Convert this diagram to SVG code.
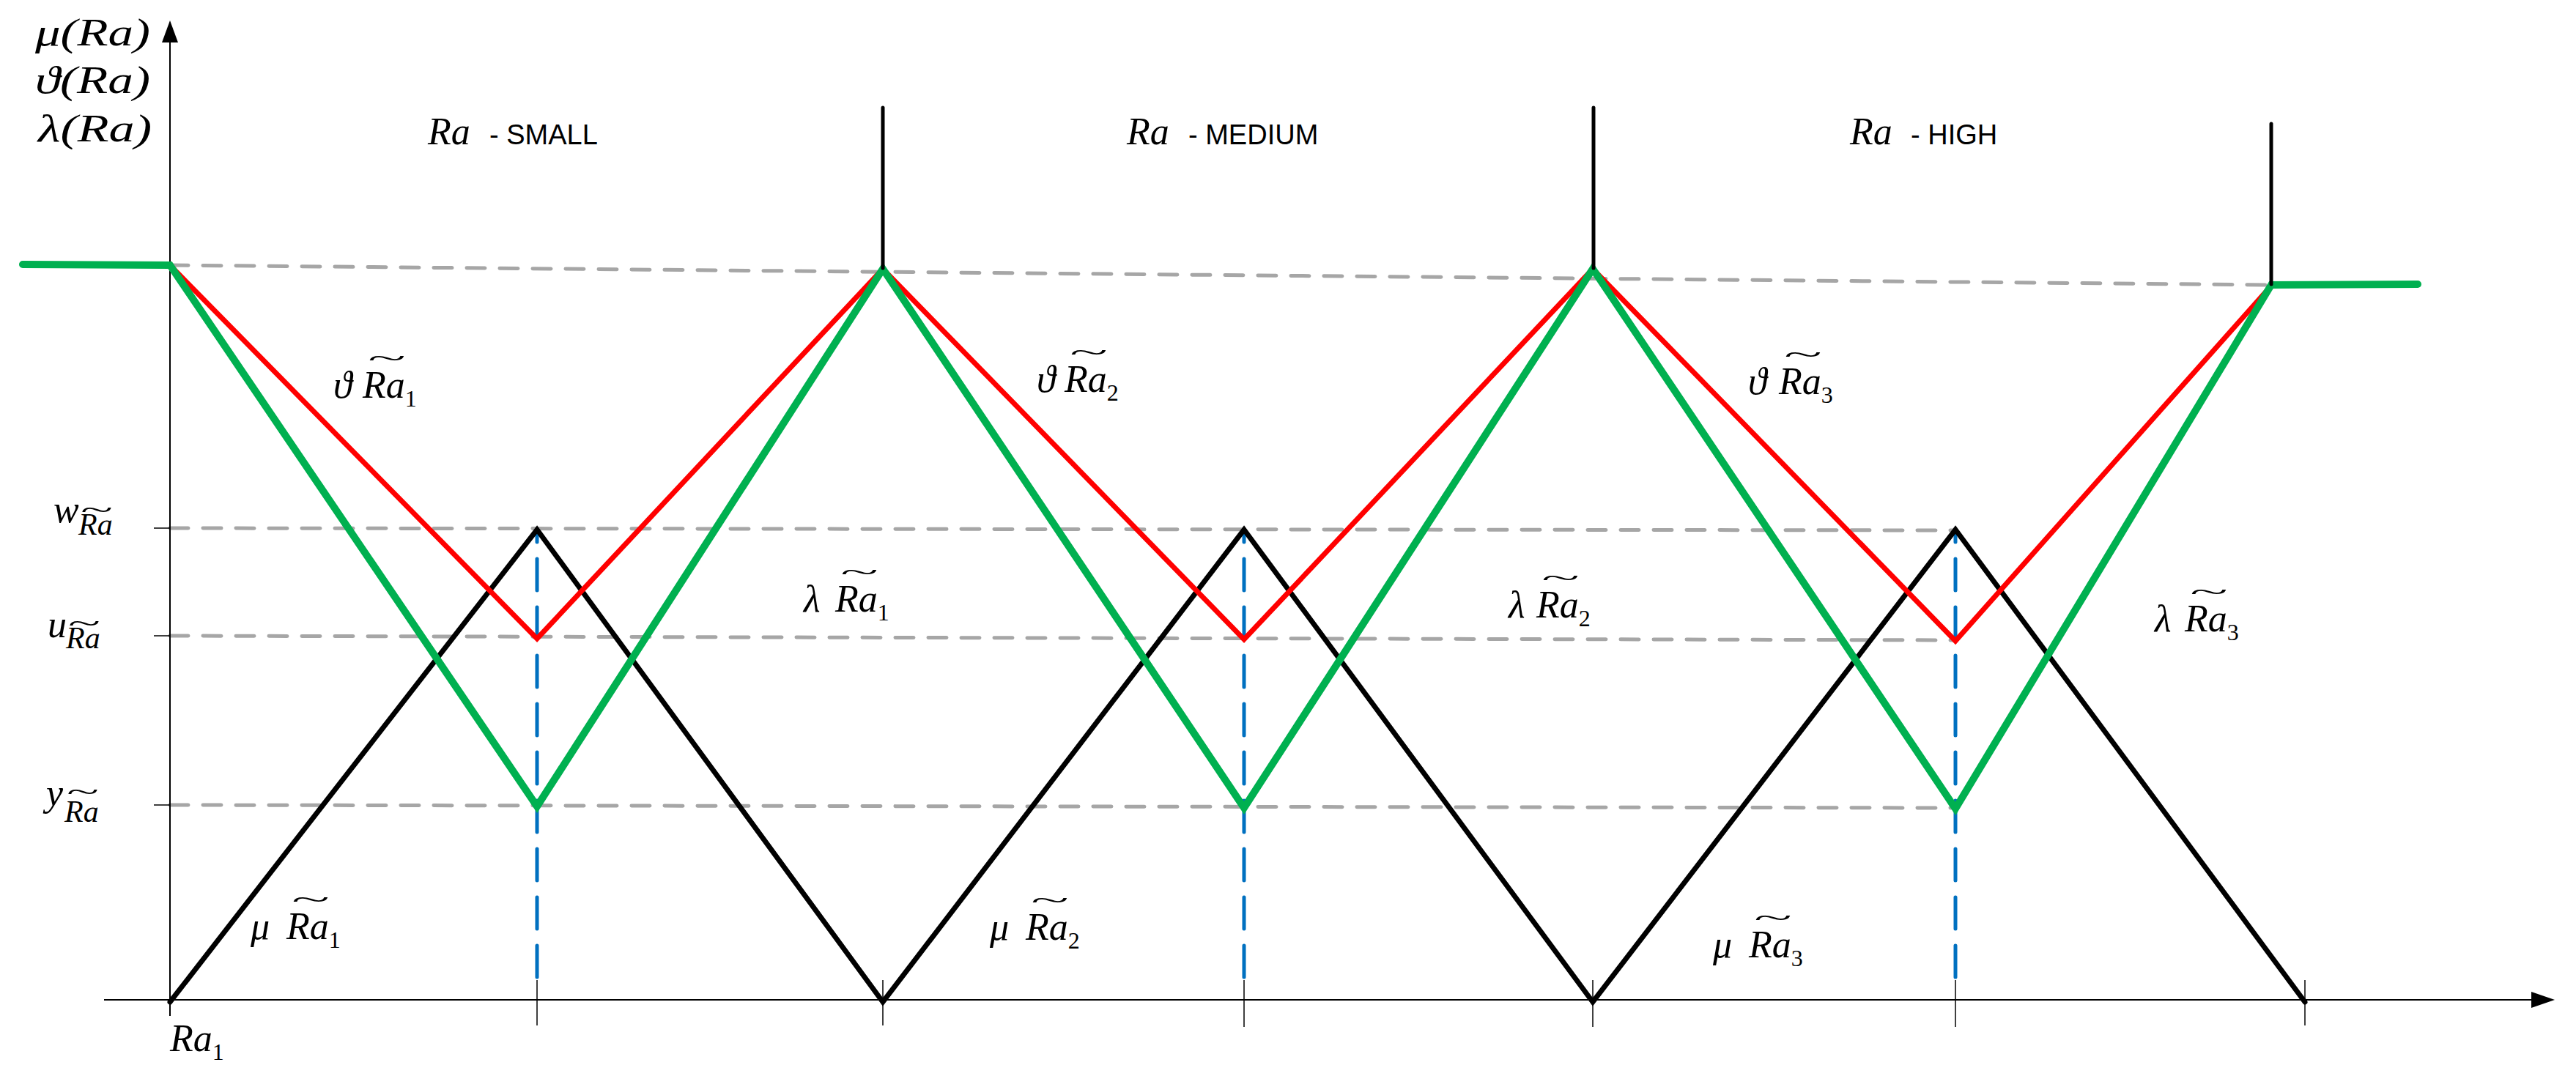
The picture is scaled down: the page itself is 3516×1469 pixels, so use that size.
<svg xmlns="http://www.w3.org/2000/svg" width="3516" height="1469" viewBox="0 0 3516 1469">
<style>
.bg{fill:#ffffff}
.axis{stroke:#000;stroke-width:2;fill:none}
.tick{stroke:#000;stroke-width:1.5;fill:none}
.arrow{fill:#000}
.guide{stroke:#A6A6A6;stroke-width:5;fill:none;stroke-dasharray:25 20;stroke-linecap:round}
.blue{stroke:#0070C0;stroke-width:5;fill:none;stroke-dasharray:43 23;stroke-dashoffset:26;stroke-linecap:round}
.mu{stroke:#000;stroke-width:7;fill:none;stroke-linecap:round;stroke-linejoin:miter}
.theta{stroke:#FF0000;stroke-width:7;fill:none;stroke-linecap:round;stroke-linejoin:miter}
.lam{stroke:#00B050;stroke-width:10;fill:none;stroke-linecap:round;stroke-linejoin:miter}
.post{stroke:#000;stroke-width:5;fill:none;stroke-linecap:round}
.m{font-family:"Liberation Serif","DejaVu Serif",serif;font-style:italic;font-size:52px;fill:#000}
.sub{font-style:normal;font-size:32px}
.tl{font-style:normal;font-size:36px}
.s{font-family:"Liberation Sans",Arial,sans-serif;font-size:38px;fill:#000}
</style>
<rect class="bg" x="0" y="0" width="3516" height="1469"/>

<g id="guides">
  <line class="guide" x1="232" y1="362" x2="3100" y2="389"/>
  <line class="guide" x1="232" y1="721" x2="2669" y2="724"/>
  <line class="guide" x1="232" y1="868" x2="2669" y2="874"/>
  <line class="guide" x1="232" y1="1099" x2="2669" y2="1103"/>
  <line class="blue" x1="733" y1="723" x2="733" y2="1343"/>
  <line class="blue" x1="1698" y1="723" x2="1698" y2="1343"/>
  <line class="blue" x1="2669" y1="723" x2="2669" y2="1343"/>
</g>

<g id="axes">
  <line class="axis" x1="142" y1="1365" x2="3460" y2="1365"/>
  <polygon class="arrow" points="3455,1354 3487,1365 3455,1376"/>
  <line class="axis" x1="232" y1="1387" x2="232" y2="55"/>
  <polygon class="arrow" points="221,58 232,28 243,58"/>
  <line class="tick" x1="210" y1="721" x2="232" y2="721"/>
  <line class="tick" x1="210" y1="868" x2="232" y2="868"/>
  <line class="tick" x1="210" y1="1099" x2="232" y2="1099"/>
  <line class="tick" x1="733" y1="1338" x2="733" y2="1400"/>
  <line class="tick" x1="1205" y1="1338" x2="1205" y2="1400"/>
  <line class="tick" x1="1698" y1="1338" x2="1698" y2="1402"/>
  <line class="tick" x1="2174" y1="1338" x2="2174" y2="1402"/>
  <line class="tick" x1="2669" y1="1338" x2="2669" y2="1402"/>
  <line class="tick" x1="3146" y1="1338" x2="3146" y2="1400"/>
</g>

<g id="connectors">
  <polyline id="mu-curve" class="mu" points="232,1368 733,723 1205,1368 1698,723 2174,1368 2669,723 3146,1368"/>
  <polyline id="theta-curve" class="theta" points="232,362 733,872 1205,367 1698,873 2174,367 2669,875 3100,390"/>
  <polyline id="lambda-curve" class="lam" points="31,361 232,362 733,1101 1205,367 1698,1103 2174,367 2669,1104 3100,389 3300,388"/>
  <line class="post" x1="1205" y1="147" x2="1205" y2="366"/>
  <line class="post" x1="2175" y1="147" x2="2175" y2="366"/>
  <line class="post" x1="3100" y1="169" x2="3100" y2="388"/>
</g>

<g id="axis-labels">
  <text class="m" x="48" y="62" font-size="54" textLength="157" lengthAdjust="spacingAndGlyphs">μ(Ra)</text>
  <text class="m" x="48" y="127" font-size="54" textLength="157" lengthAdjust="spacingAndGlyphs">ϑ(Ra)</text>
  <text class="m" x="52" y="193" font-size="54" textLength="155" lengthAdjust="spacingAndGlyphs">λ(Ra)</text>
  <text class="m" x="232" y="1435">Ra<tspan class="sub" dy="12">1</tspan></text>
</g>

<g id="level-labels">
  <text id="lbl-w" class="m" x="73" y="713" font-size="30">w<tspan x="107" y="730" font-size="42">Ra</tspan><tspan class="tl" x="110" y="708" font-size="26" textLength="44" lengthAdjust="spacingAndGlyphs">~</tspan></text>
  <text id="lbl-u" class="m" x="65" y="870" font-size="34">u<tspan x="90" y="885" font-size="42">Ra</tspan><tspan class="tl" x="93" y="863" font-size="26" textLength="44" lengthAdjust="spacingAndGlyphs">~</tspan></text>
  <text id="lbl-y" class="m" x="63" y="1100" font-size="34">y<tspan x="88" y="1122" font-size="42">Ra</tspan><tspan class="tl" x="91" y="1093" font-size="26" textLength="44" lengthAdjust="spacingAndGlyphs">~</tspan></text>
</g>

<g id="region-labels">
  <g id="lbl-small"><text class="m" x="584" y="197">Ra</text><text class="s" x="668" y="197">- SMALL</text></g>
  <g id="lbl-medium"><text class="m" x="1538" y="197">Ra</text><text class="s" x="1622" y="197">- MEDIUM</text></g>
  <g id="lbl-high"><text class="m" x="2525" y="197">Ra</text><text class="s" x="2608" y="197">- HIGH</text></g>
</g>

<g id="set-labels">
  <text id="lbl-theta1" class="m" x="455" y="543">ϑ<tspan x="495">Ra</tspan><tspan class="sub" dy="12">1</tspan><tspan class="tl" x="502" y="501" textLength="52" lengthAdjust="spacingAndGlyphs">~</tspan></text>
  <text id="lbl-theta2" class="m" x="1415" y="535">ϑ<tspan x="1453">Ra</tspan><tspan class="sub" dy="12">2</tspan><tspan class="tl" x="1460" y="493" textLength="52" lengthAdjust="spacingAndGlyphs">~</tspan></text>
  <text id="lbl-theta3" class="m" x="2386" y="538">ϑ<tspan x="2428">Ra</tspan><tspan class="sub" dy="12">3</tspan><tspan class="tl" x="2435" y="496" textLength="52" lengthAdjust="spacingAndGlyphs">~</tspan></text>
  <text id="lbl-lambda1" class="m" x="1097" y="835">λ<tspan x="1140">Ra</tspan><tspan class="sub" dy="12">1</tspan><tspan class="tl" x="1147" y="793" textLength="52" lengthAdjust="spacingAndGlyphs">~</tspan></text>
  <text id="lbl-lambda2" class="m" x="2059" y="843">λ<tspan x="2097">Ra</tspan><tspan class="sub" dy="12">2</tspan><tspan class="tl" x="2104" y="801" textLength="52" lengthAdjust="spacingAndGlyphs">~</tspan></text>
  <text id="lbl-lambda3" class="m" x="2941" y="862">λ<tspan x="2982">Ra</tspan><tspan class="sub" dy="12">3</tspan><tspan class="tl" x="2989" y="820" textLength="52" lengthAdjust="spacingAndGlyphs">~</tspan></text>
  <text id="lbl-mu1" class="m" x="342" y="1282">μ<tspan x="391">Ra</tspan><tspan class="sub" dy="12">1</tspan><tspan class="tl" x="398" y="1240" textLength="52" lengthAdjust="spacingAndGlyphs">~</tspan></text>
  <text id="lbl-mu2" class="m" x="1351" y="1283">μ<tspan x="1400">Ra</tspan><tspan class="sub" dy="12">2</tspan><tspan class="tl" x="1407" y="1241" textLength="52" lengthAdjust="spacingAndGlyphs">~</tspan></text>
  <text id="lbl-mu3" class="m" x="2338" y="1307">μ<tspan x="2387">Ra</tspan><tspan class="sub" dy="12">3</tspan><tspan class="tl" x="2394" y="1265" textLength="52" lengthAdjust="spacingAndGlyphs">~</tspan></text>
</g>
</svg>
